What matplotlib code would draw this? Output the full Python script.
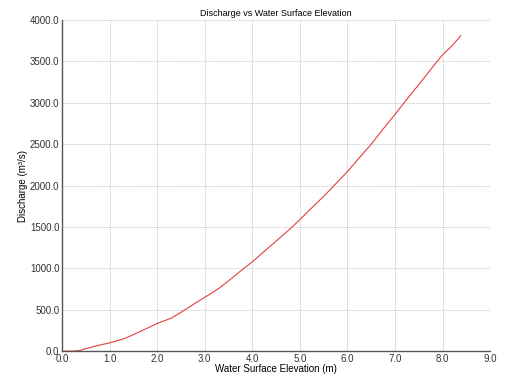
import matplotlib
matplotlib.use("Agg")
import matplotlib.pyplot as plt

# water surface elevation (m) vs discharge (m3/s)
elevation = [0.0, 0.2, 0.35, 0.5, 0.8, 1.0, 1.3, 1.5, 1.8, 2.0, 2.3, 2.5, 2.8,
             3.0, 3.3, 3.5, 3.8, 4.0, 4.3, 4.5, 4.8, 5.0, 5.3, 5.5, 5.8, 6.0,
             6.3, 6.5, 6.8, 7.0, 7.3, 7.5, 7.8, 8.0, 8.2, 8.38]
discharge = [0, 0, 5, 30, 75, 100, 150, 200, 280, 335, 400, 470, 580,
             650, 760, 850, 990, 1080, 1230, 1330, 1480, 1590, 1760, 1870, 2050, 2170,
             2370, 2500, 2720, 2860, 3080, 3220, 3440, 3580, 3690, 3810]

xticks = [0, 1, 2, 3, 4, 5, 6, 7, 8, 9]
yticks = [0, 500, 1000, 1500, 2000, 2500, 3000, 3500, 4000]

plt.rcParams['font.family'] = ['Liberation Sans', 'DejaVu Sans']

fig = plt.figure(figsize=(5.22, 3.78), dpi=100)
ax = fig.add_axes([0.119, 0.071, 0.82, 0.876])

ax.plot(elevation, discharge, color='#e04040', linewidth=0.8)

ax.set_xlim(0, 9)
ax.set_ylim(0, 4000)
ax.set_xticks(xticks)
ax.set_xticklabels([f"{v:.1f}" for v in xticks])
ax.set_yticks(yticks)
ax.set_yticklabels([f"{v:.1f}" for v in yticks])
ax.tick_params(length=0, labelsize=7, colors='#333333', pad=2)

ax.grid(True, linestyle=(0, (1, 1)), color='#bbbbbb', linewidth=0.6)
for side in ['top', 'right']:
    ax.spines[side].set_visible(False)
for side in ['left', 'bottom']:
    ax.spines[side].set_color('#555555')
    ax.spines[side].set_linewidth(1.0)

ax.set_title("Discharge vs Water Surface Elevation", fontsize=6.5, pad=3)
ax.set_xlabel("Water Surface Elevation (m)", fontsize=7, labelpad=0)
ax.set_ylabel("Discharge (m³/s)", fontsize=7, labelpad=1)

fig.savefig("out.png", dpi=100)
